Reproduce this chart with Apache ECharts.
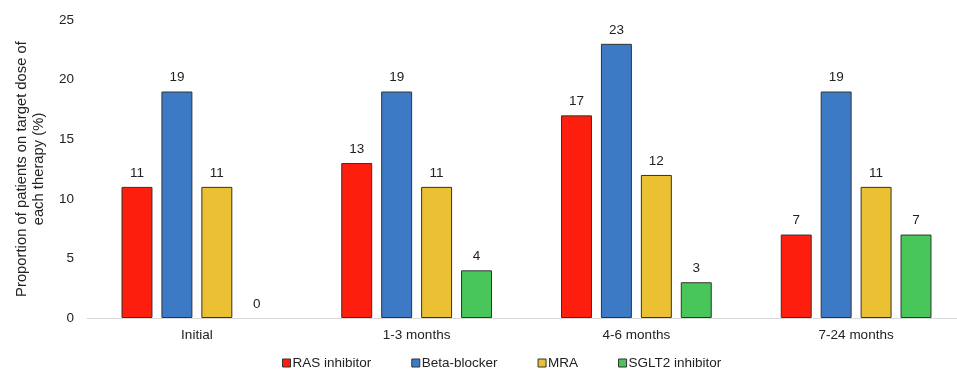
<!DOCTYPE html>
<html>
<head>
<meta charset="utf-8">
<script src="https://cdn.jsdelivr.net/npm/echarts@6/dist/echarts.min.js"></script>
<style>
html,body{margin:0;padding:0;background:#fff;}
#chart{width:957px;height:370px;}
</style>
</head>
<body>
<div id="chart"></div>
<script>
const categories = ["Initial", "1-3 months", "4-6 months", "7-24 months"];
const seriesNames = ["RAS inhibitor", "Beta-blocker", "MRA", "SGLT2 inhibitor"];
const rasInhibitor = [11, 13, 17, 7];
const betaBlocker = [19, 19, 23, 19];
const mra = [11, 11, 12, 11];
const sglt2Inhibitor = [0, 4, 3, 7];
const yTicks = [0, 5, 10, 15, 20, 25];

const colors = ["#FE1E0E", "#3D7AC6", "#EBC133", "#49C65A"];
const allValues = [rasInhibitor, betaBlocker, mra, sglt2Inhibitor];

const chart = echarts.init(document.getElementById('chart'));
const font = "'Liberation Sans', Arial, sans-serif";
const fs = 13.5;

const series = seriesNames.map((name, i) => ({
  name: name,
  type: 'bar',
  barGap: '29%',
  barCategoryGap: '31.4%',
  data: allValues[i].map(v => v === 0 ? { value: v, itemStyle: { borderWidth: 0 } } : v),
  itemStyle: { color: colors[i], borderColor: '#333', borderWidth: 1 },
  label: {
    show: true,
    position: 'top',
    distance: 7,
    color: '#222',
    fontSize: fs,
    fontFamily: font
  }
}));

chart.setOption({
  animation: false,
  textStyle: { fontFamily: font },
  grid: { left: 87, width: 879, top: 20, bottom: 52, containLabel: false, outerBoundsMode: 'none' },
  legend: {
    top: 351,
    left: 277,
    itemWidth: 8,
    itemHeight: 8,
    itemGap: 40,
    icon: 'rect',
    textStyle: { fontSize: fs, color: '#222', fontFamily: font, padding: [0, 0, 0, -3] },
    data: seriesNames.map((n, i) => ({ name: n, itemStyle: { color: colors[i], borderColor: '#333', borderWidth: 1 } }))
  },
  xAxis: {
    type: 'category',
    data: categories,
    axisLine: { show: true, lineStyle: { color: '#d9d9d9', width: 1 } },
    axisTick: { show: false },
    axisLabel: { fontSize: fs, color: '#222', margin: 10, fontFamily: font }
  },
  yAxis: {
    type: 'value',
    min: yTicks[0],
    max: yTicks[yTicks.length - 1],
    interval: yTicks[1] - yTicks[0],
    name: 'Proportion of patients on target dose of\neach therapy (%)',
    nameLocation: 'middle',
    nameGap: 40,
    nameTextStyle: { fontSize: 14.8, color: '#222', lineHeight: 17, fontFamily: font },
    axisLine: { show: false },
    axisTick: { show: false },
    splitLine: { show: false },
    axisLabel: { fontSize: fs, color: '#222', margin: 13, fontFamily: font }
  },
  series: series
});
</script>
</body>
</html>
